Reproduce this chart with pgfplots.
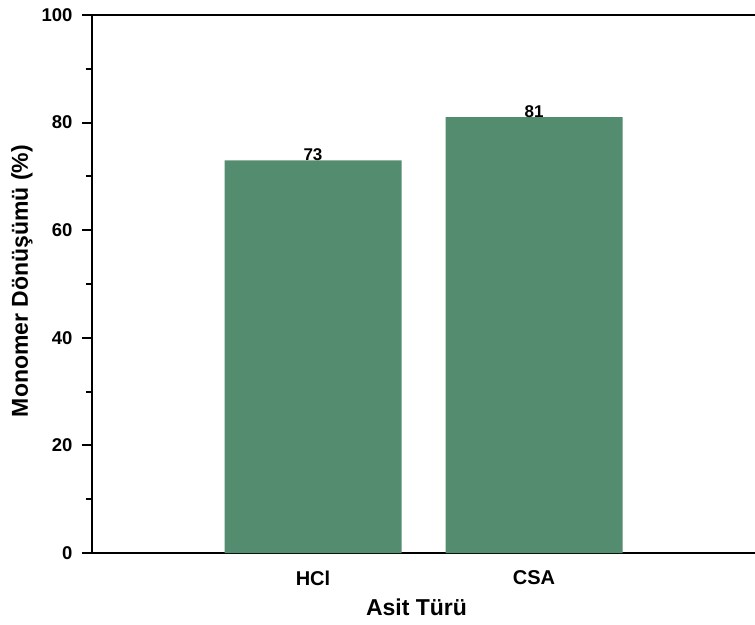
\documentclass[border=0pt]{standalone}
\usepackage{pgfplots}
\pgfplotsset{compat=1.18}
\usetikzlibrary{calc}
\usepackage{fontspec}
\setmainfont{Liberation Sans}
\definecolor{barc}{RGB}{84,140,112}
\begin{document}
\begin{tikzpicture}
\begin{axis}[
  name=ax,
  scale only axis,
  width=663pt, height=538pt,
  xmin=0, xmax=3, ymin=0, ymax=100,
  axis x line=box, axis y line=left,
  axis line style={line width=2.4pt, -},
  xtick={1,2}, xticklabels={HCl,CSA},
  ytick={0,20,40,60,80,100},
  minor ytick={10,30,50,70,90},
  tick align=outside,
  x tick style={draw=none},
  y tick style={line width=2pt, black},
  major tick length=10pt, minor tick length=6pt,
  /pgf/number format/assume math mode=true,
  yticklabel style={font=\bfseries\fontsize{18.5}{18.5}\selectfont, xshift=-6pt},
  xticklabel style={font=\bfseries\fontsize{20}{20}\selectfont, yshift=-4pt},
  xlabel={Asit Türü}, ylabel={Monomer Dönüşümü (\%)},
  label style={font=\bfseries\fontsize{23}{23}\selectfont},
  xlabel style={yshift=-7pt, xshift=-7pt},
  ylabel style={yshift=2pt, xshift=3pt},
  nodes near coords,
  every node near coord/.append style={font=\bfseries\fontsize{17}{17}\selectfont, yshift=-4pt},
]
\addplot[ybar, bar width=177pt, fill=barc, draw=none] coordinates {(1,73) (2,81)};
\end{axis}
\pgfresetboundingbox
\path[use as bounding box] ($(ax.south west)+(-92pt,-71pt)$) rectangle ($(ax.north east)+(0pt,15pt)$);
\end{tikzpicture}
\end{document}
